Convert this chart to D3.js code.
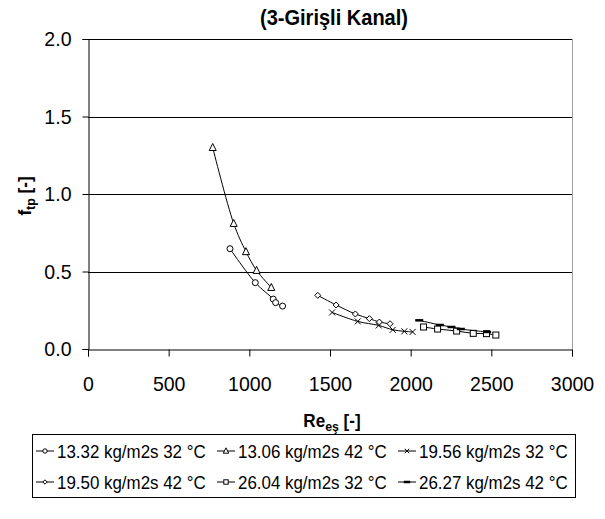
<!DOCTYPE html>
<html>
<head>
<meta charset="utf-8">
<script src="https://cdn.jsdelivr.net/npm/d3@7"></script>
<style>
    body { margin: 0; background: #fff; }
    svg text { font-family: "Liberation Sans", Arial, sans-serif; }
</style>
</head>
<body>
<svg id="chart" width="605" height="519"></svg>
<script>
// series data
var seriesNames = ['13.32 kg/m2s 32 °C', '13.06 kg/m2s 42 °C', '19.56 kg/m2s 32 °C',
                   '19.50 kg/m2s 42 °C', '26.04 kg/m2s 32 °C', '26.27 kg/m2s 42 °C'];
var markers = ['circle', 'triangle', 'cross', 'diamond', 'square', 'dash'];

var re1332 = [880, 1037, 1148, 1163, 1206];
var f1332 = [0.647, 0.428, 0.322, 0.299, 0.277];
var re1306 = [773, 903, 979, 1045, 1136];
var f1306 = [1.30, 0.81, 0.628, 0.507, 0.397];
var re1956 = [1513, 1672, 1802, 1889, 1961, 2012];
var f1956 = [0.236, 0.178, 0.152, 0.124, 0.114, 0.110];
var re1950 = [1424, 1538, 1657, 1744, 1806, 1872];
var f1950 = [0.346, 0.284, 0.226, 0.196, 0.174, 0.163];
var re2604 = [2080, 2167, 2285, 2388, 2470, 2528];
var f2604 = [0.142, 0.129, 0.116, 0.101, 0.099, 0.090];
var re2627 = [2053, 2181, 2253, 2311, 2474];
var f2627 = [0.185, 0.155, 0.142, 0.129, 0.110];

var xTicks = [0, 500, 1000, 1500, 2000, 2500, 3000];
var yTicks = [0, 0.5, 1.0, 1.5, 2.0];

var series = [
    {re: re1332, f: f1332},
    {re: re1306, f: f1306},
    {re: re1956, f: f1956},
    {re: re1950, f: f1950},
    {re: re2604, f: f2604},
    {re: re2627, f: f2627}
].map(function (s, i) {
    return {
        name: seriesNames[i],
        marker: markers[i],
        points: s.re.map(function (r, j) { return [r, s.f[j]]; })
    };
});

// no narrow font installed, so squeeze the glyphs horizontally instead
function narrow(sel, factor) {
    sel.each(function () {
        var len = this.getComputedTextLength();
        d3.select(this)
            .attr('textLength', len * factor)
            .attr('lengthAdjust', 'spacingAndGlyphs');
    });
}

var svg = d3.select('#chart');
// plot area ("top" is taken on window, so other names)
var plotLeft = 88, plotRight = 572, plotTop = 39, plotBottom = 349;

var x = d3.scaleLinear().domain([0, 3000]).range([plotLeft, plotRight]);
var y = d3.scaleLinear().domain([0, 2]).range([plotBottom, plotTop]);

// gridlines
svg.append('g')
    .selectAll('line')
    .data(yTicks.filter(function (d) { return d > 0; }))
    .enter()
    .append('line')
    .attr('x1', plotLeft).attr('x2', plotRight)
    .attr('y1', function (d) { return Math.round(y(d)) + 0.5; })
    .attr('y2', function (d) { return Math.round(y(d)) + 0.5; })
    .style('stroke', '#000')
    .style('stroke-width', 1);

// right border of the plot area
svg.append('line')
    .attr('x1', plotRight + 0.5).attr('x2', plotRight + 0.5)
    .attr('y1', plotTop).attr('y2', plotBottom)
    .style('stroke', '#a0a0a0');

// axes
var xAxis = d3.axisBottom(x).tickValues(xTicks).tickSize(7).tickPadding(20)
    .tickFormat(d3.format('d'));
var yAxis = d3.axisLeft(y).tickValues(yTicks).tickSize(6).tickPadding(11)
    .tickFormat(d3.format('.1f'));

var gx = svg.append('g')
    .attr('transform', 'translate(0,' + (plotBottom + 0.5) + ')')
    .call(xAxis);
var gy = svg.append('g')
    .attr('transform', 'translate(' + (plotLeft + 0.5) + ',0)')
    .call(yAxis);

[gx, gy].forEach(function (g) {
    g.select('.domain').style('stroke', '#000');
    g.selectAll('.tick line').style('stroke', '#000');
    g.selectAll('.tick text')
        .style('font-size', '21px')
        .style('fill', '#000')
        .style('font-family', '"Liberation Sans", Arial, sans-serif')
        .call(narrow, 0.93);
});

// titles
svg.append('text')
    .attr('x', 334).attr('y', 25)
    .attr('text-anchor', 'middle')
    .style('font-size', '22px')
    .style('font-weight', 'bold')
    .text('(3-Girişli Kanal)')
    .call(narrow, 0.91);

var xt = svg.append('g').attr('transform', 'translate(332,427) scale(0.95,1)');
var xtText = xt.append('text')
    .attr('text-anchor', 'middle')
    .style('font-size', '18px')
    .style('font-weight', 'bold');
xtText.append('tspan').text('Re');
xtText.append('tspan').attr('dy', 4).style('font-size', '13px').text('eş');
xtText.append('tspan').attr('dy', -4).text(' [-]');

var yt = svg.append('g').attr('transform', 'translate(31,196) rotate(-90) scale(0.95,1)');
var ytText = yt.append('text')
    .attr('text-anchor', 'middle')
    .style('font-size', '18px')
    .style('font-weight', 'bold');
ytText.append('tspan').text('f');
ytText.append('tspan').attr('dy', 4).style('font-size', '13px').text('tp');
ytText.append('tspan').attr('dy', -4).text(' [-]');

// marker drawing
function drawMarker(g, type, size) {
    var s = size || 3;
    if (type === 'circle') {
        g.append('circle').attr('r', s).style('fill', '#fff').style('stroke', '#000');
    } else if (type === 'triangle') {
        g.append('path')
            .attr('d', 'M0,' + (-s - 1) + 'L' + (s + 0.5) + ',' + (s) + 'L' + (-s - 0.5) + ',' + (s) + 'Z')
            .style('fill', '#fff').style('stroke', '#000');
    } else if (type === 'square') {
        g.append('rect').attr('x', -s).attr('y', -s).attr('width', 2 * s).attr('height', 2 * s)
            .style('fill', '#fff').style('stroke', '#000');
    } else if (type === 'diamond') {
        g.append('path')
            .attr('d', 'M0,' + (-s) + 'L' + s + ',0L0,' + s + 'L' + (-s) + ',0Z')
            .style('fill', '#fff').style('stroke', '#000');
    } else if (type === 'cross') {
        g.append('path')
            .attr('d', 'M' + (-s) + ',' + (-s) + 'L' + s + ',' + s + 'M' + s + ',' + (-s) + 'L' + (-s) + ',' + s)
            .style('fill', 'none').style('stroke', '#000');
    } else if (type === 'dash') {
        g.append('path')
            .attr('d', 'M' + (-s - 1) + ',0L' + (s + 1) + ',0')
            .style('fill', 'none').style('stroke', '#000').style('stroke-width', 2.5);
    }
}

var line = d3.line()
    .x(function (d) { return x(d[0]); })
    .y(function (d) { return y(d[1]); })
    .curve(d3.curveCatmullRom.alpha(0.5));

var plot = svg.append('g');
series.forEach(function (s) {
    plot.append('path')
        .datum(s.points)
        .attr('d', line)
        .style('fill', 'none')
        .style('stroke', '#000')
        .style('stroke-width', 1);
    s.points.forEach(function (p) {
        var g = plot.append('g')
            .attr('transform', 'translate(' + x(p[0]) + ',' + y(p[1]) + ')');
        drawMarker(g, s.marker);
    });
});

// legend
var legend = svg.append('g');
legend.append('rect')
    .attr('x', 32.5).attr('y', 434.5)
    .attr('width', 543).attr('height', 63)
    .style('fill', '#fff')
    .style('stroke', '#000');

var colX = [36, 217, 398];
var rowY = [451, 482];
series.forEach(function (s, i) {
    var cx = colX[i % 3], cy = rowY[Math.floor(i / 3)];
    var item = legend.append('g').attr('transform', 'translate(' + cx + ',' + cy + ')');
    item.append('line').attr('x1', 0).attr('x2', 18).attr('y1', 0).attr('y2', 0)
        .style('stroke', '#000');
    var m = item.append('g').attr('transform', 'translate(9,0)');
    drawMarker(m, s.marker, 2.2);
    item.append('text')
        .attr('x', 21).attr('y', 7)
        .style('font-size', '19px')
        .text(s.name)
        .call(narrow, 0.89);
});
</script>
</body>
</html>
